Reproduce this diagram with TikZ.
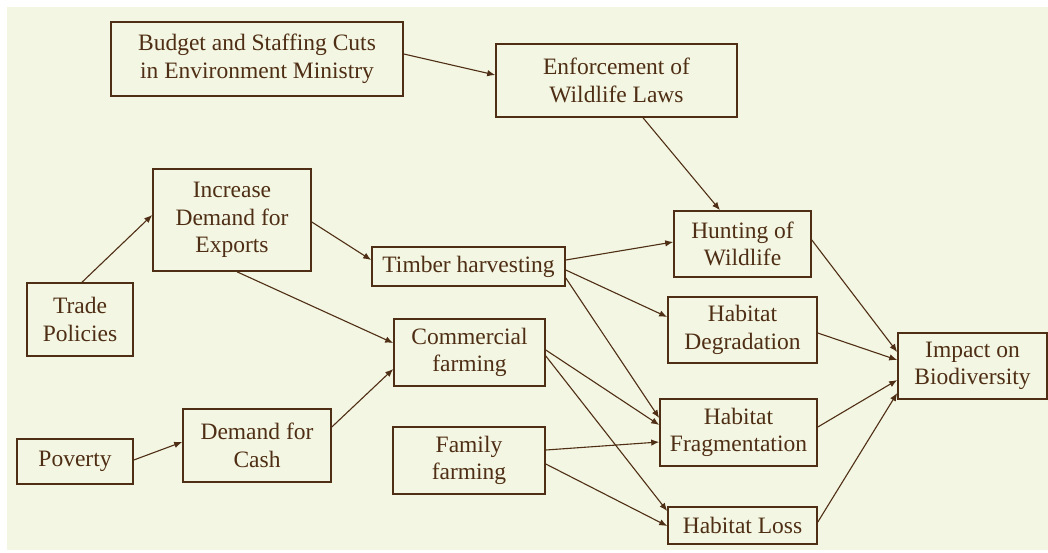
\documentclass[tikz,border=0pt]{standalone}
\usepackage{fontspec}
\setmainfont{Liberation Serif}
\usetikzlibrary{arrows.meta}
\definecolor{cInk}{HTML}{4E2E14}
\definecolor{cPaper}{HTML}{F3F6E2}
\tikzset{
  factor/.style 2 args={draw=cInk, line width=1.6pt, text=cInk, align=center,
    inner sep=0pt, minimum width=#1, minimum height=#2,
    font=\fontsize{23.5}{27.5}\selectfont},
  link/.style={cInk, line width=1.1pt, -{Latex[length=8pt,width=6.5pt]}},
}

\begin{document}
\begin{tikzpicture}[x=1pt, y=-1pt]
\useasboundingbox (0,0) rectangle (1048,552);
\fill[cPaper] (7,7) rectangle (1048,550);

% ============================================================ root causes
\node[factor={292pt}{74pt}] (budget) at (257,59) {Budget and Staffing Cuts\\in Environment Ministry};
\node[factor={106pt}{73pt}] (trade) at (80,319.5) {Trade\\Policies};
\node[factor={116pt}{45pt}] (poverty) at (75,461.5) {Poverty};

% ====================================================== intermediate links
\node[factor={241pt}{73pt}] (enforce) at (616.5,80.5) {Enforcement of\\Wildlife Laws};
\node[factor={158pt}{102pt}] (exports) at (232,220) {Increase\\Demand for\\Exports};
\node[factor={148pt}{73pt}] (cash) at (257,445.5) {Demand for\\Cash};
\node[factor={193pt}{39pt}] (timber) at (468.5,266.5) {Timber harvesting};
\node[factor={151pt}{67pt}] (commercial) at (469.5,352.5) {Commercial\\farming};
\node[factor={152pt}{67pt}] (family) at (469,460.5) {Family\\farming};

% ============================================================ pressures
\node[factor={137pt}{66pt}] (hunting) at (742.5,244) {Hunting of\\Wildlife};
\node[factor={149pt}{66pt}] (degrad) at (742.5,330) {Habitat\\Degradation};
\node[factor={157pt}{67pt}] (frag) at (738.5,432.5) {Habitat\\Fragmentation};
\node[factor={149pt}{37pt}] (loss) at (742.5,525.5) {Habitat Loss};
\node[factor={149pt}{66pt}] (impact) at (972.5,366) {Impact on\\Biodiversity};

% ============================================================ arrows
\draw[link] ([yshift=5pt]budget.east) -- ([yshift=5.5pt]enforce.west);
\draw[link] ([xshift=26.5pt]enforce.south) -- ([xshift=-22.5pt]hunting.north);
\draw[link] ([xshift=2pt]trade.north) -- ([yshift=5pt]exports.west);
\draw[link] ([yshift=-2pt]exports.east) -- ([yshift=6.5pt]timber.west);
\draw[link] ([xshift=5pt]exports.south) -- ([yshift=9.5pt]commercial.west);
\draw[link] ([yshift=1.5pt]poverty.east) -- ([yshift=3.5pt]cash.west);
\draw[link] ([yshift=18.5pt]cash.east) -- ([yshift=-16.5pt]commercial.west);
\draw[link] ([yshift=6.5pt]timber.east) -- ([yshift=2pt]hunting.west);
\draw[link] ([yshift=-3.5pt]timber.east) -- ([yshift=13pt]degrad.west);
\draw[link] ([yshift=-11.5pt]timber.east) -- ([yshift=14.5pt]frag.west);
\draw[link] ([yshift=2.5pt]commercial.east) -- ([yshift=7.5pt]frag.west);
\draw[link] ([yshift=-3.5pt]commercial.east) -- ([yshift=14.5pt]loss.west);
\draw[link] ([yshift=10.5pt]family.east) -- ([yshift=-9.5pt]frag.west);
\draw[link] ([yshift=-3.5pt]family.east) -- ([yshift=-0.5pt]loss.west);
\foreach \src/\dy/\ey in {hunting/4/14, degrad/-3/6, frag/5.5/-14, loss/3.5/-27} {
  \draw[link] ([yshift=\dy pt]\src.east) -- ([yshift=\ey pt]impact.west);}
\end{tikzpicture}
\end{document}
